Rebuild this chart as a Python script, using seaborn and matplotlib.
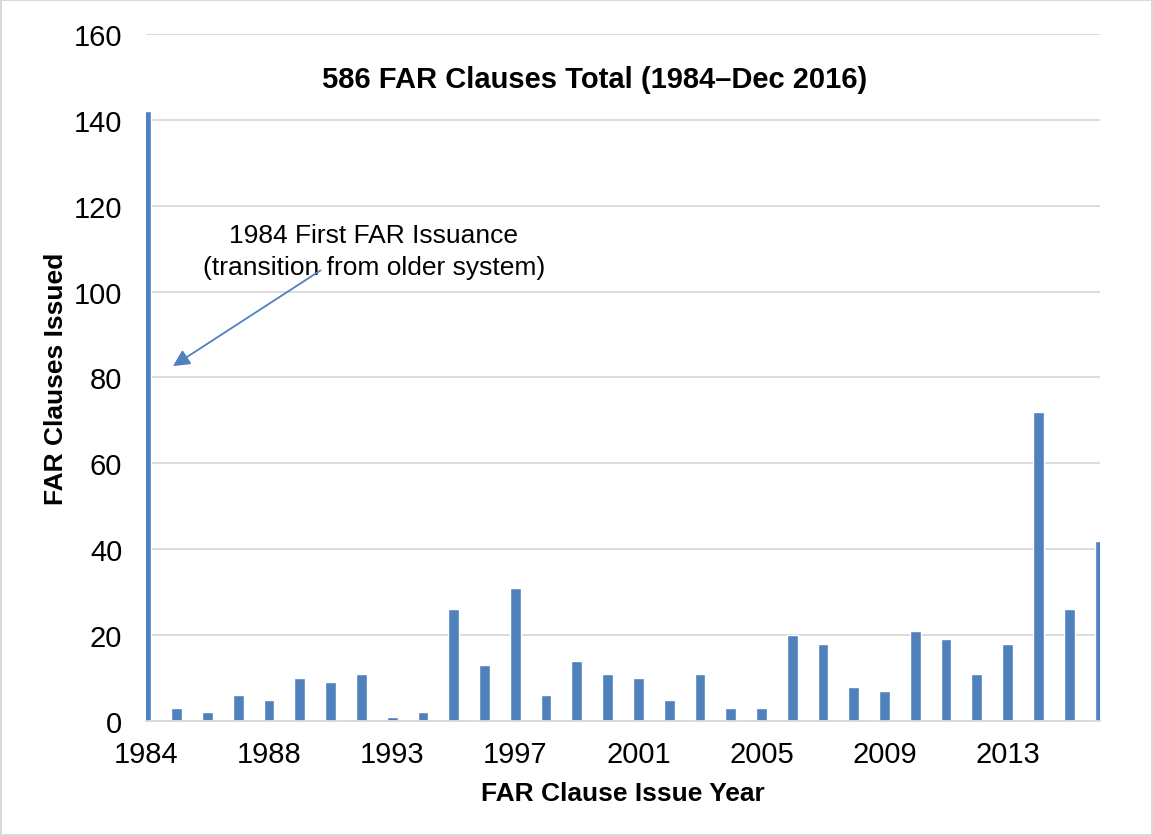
import numpy as np
import matplotlib.pyplot as plt
import pandas as pd
import seaborn as sns

years = [1984, 1985, 1986, 1987, 1988, 1989, 1990, 1991,
         1993, 1994, 1995, 1996, 1997, 1998, 1999, 2000,
         2001, 2002, 2003, 2004, 2005, 2006, 2007, 2008,
         2009, 2010, 2011, 2012, 2013, 2014, 2015, 2016]
clauses = [142, 3, 2, 6, 5, 10, 9, 11,
           1, 2, 26, 13, 31, 6, 14, 11,
           10, 5, 11, 3, 3, 20, 18, 8,
           7, 21, 19, 11, 18, 72, 26, 42]

df = pd.DataFrame({'Year': [str(y) for y in years], 'Clauses': clauses})

sns.set_style('white')
plt.rcParams['font.family'] = ['Liberation Sans', 'DejaVu Sans']
plt.rcParams['text.color'] = 'black'
plt.rcParams['axes.labelcolor'] = 'black'
plt.rcParams['xtick.labelcolor'] = 'black'
plt.rcParams['ytick.labelcolor'] = 'black'

fig = plt.figure(figsize=(11.53, 8.37), dpi=100)
fig.patch.set_edgecolor('#d9d9d9')
fig.patch.set_linewidth(1.5)
ax = fig.add_axes([0.1266, 0.1374, 0.8274, 0.8208])

sns.barplot(data=df, x='Year', y='Clauses', color='#4f81bd', saturation=1,
            width=0.35, ax=ax)

ax.set_xlim(0, len(years) - 1)
ax.set_ylim(0, 160)
ax.set_yticks(np.arange(0, 161, 20))
ax.yaxis.grid(True, color='#d9d9d9', linewidth=1.3)
ax.set_axisbelow(True)

ax.set_xticks(range(len(years)))
ax.set_xticklabels([str(y) if i % 4 == 0 else '' for i, y in enumerate(years)])
ax.tick_params(axis='x', length=7, color='#d9d9d9', width=1.3, labelsize=21, pad=7)
ax.tick_params(axis='y', length=0, labelsize=21, pad=17)

for s in ['top', 'right', 'left']:
    ax.spines[s].set_visible(False)
ax.spines['bottom'].set_color('#d9d9d9')
ax.spines['bottom'].set_linewidth(1.3)

ax.set_xlabel('FAR Clause Issue Year', fontsize=19, fontweight='bold', labelpad=9)
ax.set_ylabel('FAR Clauses Issued', fontsize=19, fontweight='bold', labelpad=4)

fig.text(0.516, 0.904, '586 FAR Clauses Total (1984\u2013Dec 2016)',
         ha='center', va='center', fontsize=21, fontweight='bold')

ax.text(7.4, 109.5, '1984 First FAR Issuance\n(transition from older system)',
        ha='center', va='center', fontsize=19, linespacing=1.4)
ax.annotate('', xy=(0.8, 82.3), xytext=(5.75, 105.3),
            arrowprops=dict(arrowstyle='-|>', color='#4f81bd', lw=1.3,
                            mutation_scale=25))

fig.savefig('out.png', dpi=100)
